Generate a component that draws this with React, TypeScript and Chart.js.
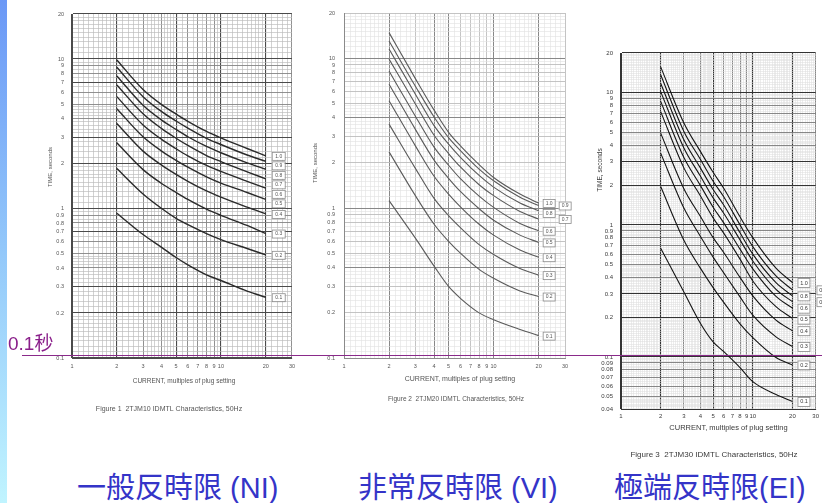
import React, { useEffect, useRef } from 'react';
import { Chart, registerables } from 'chart.js';

Chart.register(...registerables);

const FONT = '"Liberation Sans", Arial, Helvetica, sans-serif';

// ---------------- data ----------------
const CURRENT_MULTIPLES = [2, 3, 4, 5, 6, 8, 10, 15, 20];
const TMS_SETTINGS = ['1.0', '0.9', '0.8', '0.7', '0.6', '0.5', '0.4', '0.3', '0.2', '0.1'];

// Figure 1 – 2TJM10 (normal inverse), seconds at CURRENT_MULTIPLES, one row per TMS setting
const NI_TIMES = [
  [9.85, 6.25, 4.95, 4.28, 3.83, 3.28, 2.97, 2.52, 2.25],
  [8.8, 5.6, 4.45, 3.85, 3.45, 2.95, 2.68, 2.28, 2.07],
  [7.7, 4.9, 3.9, 3.38, 3.02, 2.6, 2.36, 2.02, 1.83],
  [6.7, 4.3, 3.42, 2.95, 2.64, 2.26, 2.06, 1.76, 1.58],
  [5.6, 3.62, 2.9, 2.51, 2.25, 1.94, 1.77, 1.52, 1.37],
  [4.65, 3.02, 2.42, 2.1, 1.89, 1.63, 1.48, 1.28, 1.15],
  [3.7, 2.42, 1.95, 1.69, 1.52, 1.31, 1.19, 1.02, 0.92],
  [2.75, 1.82, 1.47, 1.28, 1.15, 0.99, 0.9, 0.77, 0.68],
  [1.85, 1.25, 1.0, 0.86, 0.78, 0.68, 0.62, 0.54, 0.49],
  [0.93, 0.67, 0.55, 0.47, 0.42, 0.36, 0.33, 0.28, 0.255],
];

// Figure 2 – 2TJM20 (very inverse)
const VI_TIMES = [
  [14.8, 7.3, 4.5, 3.2, 2.6, 1.95, 1.6, 1.24, 1.08],
  [13.0, 6.5, 4.05, 2.95, 2.42, 1.82, 1.52, 1.18, 1.04],
  [11.5, 5.75, 3.55, 2.67, 2.18, 1.65, 1.38, 1.08, 0.96],
  [9.85, 4.95, 3.06, 2.31, 1.88, 1.43, 1.21, 0.95, 0.845],
  [8.2, 4.1, 2.55, 1.93, 1.57, 1.2, 1.01, 0.79, 0.706],
  [6.7, 3.35, 2.09, 1.58, 1.29, 0.99, 0.83, 0.66, 0.59],
  [5.2, 2.6, 1.63, 1.24, 1.02, 0.78, 0.66, 0.525, 0.47],
  [3.63, 1.84, 1.16, 0.89, 0.74, 0.57, 0.49, 0.395, 0.357],
  [2.37, 1.21, 0.78, 0.6, 0.5, 0.39, 0.34, 0.28, 0.257],
  [1.12, 0.63, 0.41, 0.3, 0.25, 0.2, 0.18, 0.155, 0.141],
];

// Figure 3 – 2TJM30 (extremely inverse)
const EI_TIMES = [
  [15.7, 5.9, 3.6, 2.5, 1.9, 1.15, 0.8, 0.47, 0.366],
  [13.7, 5.1, 3.14, 2.14, 1.64, 1.0, 0.684, 0.41, 0.322],
  [11.8, 4.4, 2.7, 1.85, 1.42, 0.87, 0.6, 0.365, 0.29],
  [10.2, 3.82, 2.34, 1.6, 1.23, 0.77, 0.533, 0.325, 0.262],
  [8.6, 3.23, 1.99, 1.36, 1.04, 0.655, 0.464, 0.287, 0.234],
  [7.2, 2.7, 1.66, 1.13, 0.87, 0.55, 0.376, 0.24, 0.196],
  [4.95, 1.88, 1.16, 0.8, 0.62, 0.4, 0.29, 0.19, 0.158],
  [3.49, 1.34, 0.82, 0.57, 0.435, 0.285, 0.207, 0.142, 0.12],
  [1.95, 0.765, 0.47, 0.335, 0.26, 0.178, 0.14, 0.099, 0.087],
  [0.666, 0.31, 0.18, 0.13, 0.11, 0.083, 0.065, 0.052, 0.046],
];

const X_TICK_LABELS = [1, 2, 3, 4, 5, 6, 7, 8, 9, 10, 20, 30];
const Y_TICK_LABELS_12 = [0.1, 0.2, 0.3, 0.4, 0.5, 0.6, 0.7, 0.8, 0.9, 1, 2, 3, 4, 5, 6, 7, 8, 9, 10, 20];
const Y_TICK_LABELS_3 = [0.04, 0.05, 0.06, 0.07, 0.08, 0.09, 0.1, 0.2, 0.3, 0.4, 0.5, 0.6, 0.7, 0.8, 0.9, 1, 2, 3, 4, 5, 6, 7, 8, 9, 10, 20];

const X_TITLE = 'CURRENT, multiples of plug setting';
const Y_TITLE = 'TIME, seconds';
const CAPTIONS = [
  'Figure 1  2TJM10 IDMTL Characteristics, 50Hz',
  'Figure 2  2TJM20 IDMTL Characteristics, 50Hz',
  'Figure 3  2TJM30 IDMTL Characteristics, 50Hz',
];
const CURVE_NAMES = ['一般反時限 (NI)', '非常反時限 (VI)', '極端反時限(EI)'];
const MARK_TEXT = '0.1秒';

// ---------------- helpers ----------------
function graphPaperValues(min: number, max: number, fine: boolean): number[] {
  const out: number[] = [];
  const segs = fine
    ? [[10, 20, 0.5], [20, 50, 1], [50, 100, 2.5]]
    : [[10, 20, 1], [20, 50, 2], [50, 100, 5]];
  for (let e = -3; e <= 2; e++) {
    for (const [a, b, s] of segs) {
      for (let k = a; k < b - 1e-9; k += s) {
        const v = Number(((k / 10) * Math.pow(10, e)).toPrecision(6));
        if (v >= min * (1 - 1e-9) && v <= max * (1 + 1e-9)) out.push(v);
      }
    }
  }
  return Array.from(new Set(out)).sort((p, q) => p - q);
}

function mantissa(v: number): number {
  const e = Math.floor(Math.log10(v) + 1e-9);
  return Math.round((v / Math.pow(10, e)) * 1000) / 1000;
}

type GridStyle = {
  minor: [string, number];
  major: [string, number];
  heavy: [string, number];
  heavyX: number[];
  heavyY: number[];
  fine: boolean;
};

type Spec = {
  canvas: { left: number; top: number; width: number; height: number };
  padding: { left: number; top: number; right: number; bottom: number };
  yAxisWidth: number;
  xAxisHeight: number;
  yMin: number;
  yMax: number;
  yLabels: number[];
  times: number[][];
  caption: string;
  grid: GridStyle;
  frame: string;
  line: string;
  lineWidth: number;
  text: string;
  tickSize: number;
  xTickPad: number;
  yTickPad: number;
  xTitle: { x: number; y: number; size: number };
  capPos: { x: number; y: number; size: number };
  yTitle: { x: number; y: number; size: number };
  labels: { dx: number; w: number; h: number; colDx: number; gap: number; threshold: number; size: number };
  filter?: string;
};

function gridLevel(v: number, heavy: number[]): number {
  const m = mantissa(v);
  if (heavy.includes(m)) return 2;
  if (Math.abs(m - Math.round(m)) < 1e-6) return 1;
  return 0;
}

const annotatePlugin = {
  id: 'annotate',
  afterDraw(chart: any, _args: any, opts: any) {
    const spec: Spec = opts.spec;
    if (!spec) return;
    const ctx = chart.ctx as CanvasRenderingContext2D;
    ctx.save();
    ctx.fillStyle = spec.text;
    ctx.textAlign = 'center';
    ctx.textBaseline = 'middle';
    ctx.font = `${spec.xTitle.size}px ${FONT}`;
    ctx.fillText(X_TITLE, spec.xTitle.x, spec.xTitle.y);
    ctx.font = `${spec.capPos.size}px ${FONT}`;
    ctx.fillText(spec.caption, spec.capPos.x, spec.capPos.y);
    ctx.save();
    ctx.translate(spec.yTitle.x, spec.yTitle.y);
    ctx.rotate(-Math.PI / 2);
    ctx.font = `${spec.yTitle.size}px ${FONT}`;
    ctx.fillText(Y_TITLE, 0, 0);
    ctx.restore();

    // curve setting labels
    const lab = spec.labels;
    let prevLeft = -Infinity;
    chart.data.datasets.forEach((ds: any, i: number) => {
      const meta = chart.getDatasetMeta(i);
      const pt = meta.data[meta.data.length - 1];
      if (!pt) return;
      let py = pt.y;
      let col = 0;
      const need = prevLeft + lab.gap;
      if (py < need) {
        if (need - py > lab.threshold) col = 1;
        else py = need;
      }
      if (col === 0) prevLeft = py;
      const bx = pt.x + lab.dx + col * lab.colDx;
      ctx.fillStyle = '#ffffff';
      ctx.fillRect(bx, py - lab.h / 2, lab.w, lab.h);
      ctx.strokeStyle = '#8a8a8a';
      ctx.lineWidth = 0.8;
      ctx.strokeRect(bx + 0.5, py - lab.h / 2 + 0.5, lab.w, lab.h);
      ctx.fillStyle = spec.text;
      ctx.font = `${lab.size}px ${FONT}`;
      ctx.fillText(ds.label, bx + lab.w / 2 + 0.5, py + 0.5);
    });
    ctx.restore();
  },
};

function buildConfig(spec: Spec): any {
  const g = spec.grid;
  const xGrid = graphPaperValues(1, 30, g.fine);
  const yGrid = graphPaperValues(spec.yMin, spec.yMax, g.fine);
  const xLabelSet = new Set(X_TICK_LABELS);
  const yLabelSet = new Set(spec.yLabels);
  const styleFor = (v: number | undefined, heavy: number[]) => {
    if (v === undefined) return g.minor;
    const lv = gridLevel(v, heavy);
    return lv === 2 ? g.heavy : lv === 1 ? g.major : g.minor;
  };
  const tickFont = { size: spec.tickSize, family: FONT };
  return {
    type: 'line',
    data: {
      datasets: spec.times.map((row, i) => ({
        label: TMS_SETTINGS[i],
        data: CURRENT_MULTIPLES.map((m, j) => ({ x: m, y: row[j] })),
        borderColor: spec.line,
        borderWidth: spec.lineWidth,
        pointRadius: 0,
        fill: false,
        cubicInterpolationMode: 'monotone',
      })),
    },
    options: {
      responsive: false,
      animation: false,
      events: [],
      layout: { padding: spec.padding },
      plugins: {
        legend: { display: false },
        tooltip: { enabled: false },
        annotate: { spec },
      },
      scales: {
        x: {
          type: 'logarithmic',
          min: 1,
          max: 30,
          afterBuildTicks: (s: any) => {
            s.ticks = xGrid.map((v) => ({ value: v }));
          },
          afterFit: (s: any) => {
            s.height = spec.xAxisHeight;
          },
          grid: {
            drawTicks: false,
            color: (c: any) => styleFor(c.tick?.value, g.heavyX)[0],
            lineWidth: (c: any) => styleFor(c.tick?.value, g.heavyX)[1],
          },
          border: { display: true, color: spec.frame, width: 1 },
          ticks: {
            autoSkip: false,
            maxRotation: 0,
            minRotation: 0,
            padding: spec.xTickPad,
            color: spec.text,
            font: tickFont,
            callback: (v: any) => (xLabelSet.has(Number(v)) ? String(Number(v)) : ''),
          },
        },
        y: {
          type: 'logarithmic',
          min: spec.yMin,
          max: spec.yMax,
          afterBuildTicks: (s: any) => {
            s.ticks = yGrid.map((v) => ({ value: v }));
          },
          afterFit: (s: any) => {
            s.width = spec.yAxisWidth;
          },
          grid: {
            drawTicks: false,
            color: (c: any) => styleFor(c.tick?.value, g.heavyY)[0],
            lineWidth: (c: any) => styleFor(c.tick?.value, g.heavyY)[1],
          },
          border: { display: true, color: spec.frame, width: 1 },
          ticks: {
            autoSkip: false,
            padding: spec.yTickPad,
            color: spec.text,
            font: tickFont,
            callback: (v: any) => (yLabelSet.has(Number(v)) ? String(Number(v)) : ''),
          },
        },
      },
    },
    plugins: [annotatePlugin],
  };
}

// ---------------- layouts / styles ----------------
const SPECS: Spec[] = [
  {
    canvas: { left: 20, top: 0, width: 280, height: 420 },
    padding: { left: 0, top: 14, right: 7, bottom: 48 },
    yAxisWidth: 52,
    xAxisHeight: 14,
    yMin: 0.1,
    yMax: 20,
    yLabels: Y_TICK_LABELS_12,
    times: NI_TIMES,
    caption: CAPTIONS[0],
    grid: {
      minor: ['#b9b9b9', 0.65],
      major: ['#858585', 0.9],
      heavy: ['#4a4a4a', 1.1],
      heavyX: [1, 2, 5],
      heavyY: [1, 2, 3, 7],
      fine: false,
    },
    frame: '#4a4a4a',
    line: '#2a2a2a',
    lineWidth: 1.4,
    text: '#555555',
    tickSize: 5.5,
    xTickPad: 5,
    yTickPad: 8,
    xTitle: { x: 164, y: 381, size: 6.5 },
    capPos: { x: 149, y: 409, size: 7 },
    yTitle: { x: 30, y: 167, size: 6 },
    labels: { dx: 6, w: 13, h: 8, colDx: 16, gap: 9.5, threshold: 100, size: 5 },
    filter: 'blur(0.25px)',
  },
  {
    canvas: { left: 290, top: 0, width: 285, height: 410 },
    padding: { left: 0, top: 13, right: 10, bottom: 38 },
    yAxisWidth: 54,
    xAxisHeight: 14,
    yMin: 0.1,
    yMax: 20,
    yLabels: Y_TICK_LABELS_12,
    times: VI_TIMES,
    caption: CAPTIONS[1],
    grid: {
      minor: ['#e0e0e0', 0.6],
      major: ['#bdbdbd', 0.9],
      heavy: ['#888888', 1],
      heavyX: [1, 2, 4, 5],
      heavyY: [1, 4],
      fine: false,
    },
    frame: '#8a8a8a',
    line: '#5a5a5a',
    lineWidth: 1.1,
    text: '#555555',
    tickSize: 5.5,
    xTickPad: 5,
    yTickPad: 9,
    xTitle: { x: 170, y: 379, size: 7 },
    capPos: { x: 166, y: 399, size: 6.5 },
    yTitle: { x: 25, y: 163, size: 6 },
    labels: { dx: 4, w: 12, h: 8, colDx: 16, gap: 10, threshold: 3.5, size: 5 },
    filter: 'blur(0.25px)',
  },
  {
    canvas: { left: 585, top: 40, width: 237, height: 425 },
    padding: { left: 0, top: 13, right: 6, bottom: 41.5 },
    yAxisWidth: 36,
    xAxisHeight: 14,
    yMin: 0.04,
    yMax: 20,
    yLabels: Y_TICK_LABELS_3,
    times: EI_TIMES,
    caption: CAPTIONS[2],
    grid: {
      minor: ['#dedede', 0.55],
      major: ['#7a7a7a', 0.9],
      heavy: ['#333333', 1.1],
      heavyX: [1, 2, 5],
      heavyY: [1, 2, 3],
      fine: true,
    },
    frame: '#333333',
    line: '#151515',
    lineWidth: 1.1,
    text: '#3a3a3a',
    tickSize: 6,
    xTickPad: 3,
    yTickPad: 8,
    xTitle: { x: 143.5, y: 388, size: 7.5 },
    capPos: { x: 129, y: 415, size: 8 },
    yTitle: { x: 15, y: 130, size: 6.5 },
    labels: { dx: 5, w: 12, h: 9, colDx: 19, gap: 11, threshold: 3.5, size: 5.5 },
  },
];

const TITLE_LEFTS = [77, 358, 614];

function ChartCanvas({ spec }: { spec: Spec }) {
  const ref = useRef<HTMLCanvasElement | null>(null);
  useEffect(() => {
    if (!ref.current) return;
    const chart = new Chart(ref.current, buildConfig(spec));
    return () => chart.destroy();
  }, [spec]);
  return (
    <canvas
      ref={ref}
      width={spec.canvas.width}
      height={spec.canvas.height}
      style={{
        position: 'absolute',
        left: spec.canvas.left,
        top: spec.canvas.top,
        width: spec.canvas.width,
        height: spec.canvas.height,
        filter: spec.filter,
      }}
    />
  );
}

export default function App() {
  return (
    <div
      style={{
        position: 'fixed',
        left: 0,
        top: 0,
        width: 822,
        height: 503,
        background: '#ffffff',
        overflow: 'hidden',
        fontFamily: FONT,
      }}
    >
      <div
        style={{
          position: 'absolute',
          left: 0,
          top: 0,
          width: 7,
          height: 503,
          background: 'linear-gradient(180deg, #6b98f6 0%, #93c8fa 50%, #c0f4ff 100%)',
        }}
      />
      {SPECS.map((s, i) => (
        <ChartCanvas key={i} spec={s} />
      ))}
      <div
        style={{
          position: 'absolute',
          left: 22,
          top: 354.5,
          width: 800,
          height: 1.5,
          background: '#8a2a8a',
        }}
      />
      <div
        style={{
          position: 'absolute',
          left: 8,
          top: 334,
          fontSize: 19,
          lineHeight: '19px',
          color: '#8a1f8a',
          fontFamily: '"Liberation Sans", "Noto Sans CJK TC", sans-serif',
          whiteSpace: 'nowrap',
        }}
      >
        {MARK_TEXT}
      </div>
      {CURVE_NAMES.map((t, i) => (
        <div
          key={t}
          style={{
            position: 'absolute',
            left: TITLE_LEFTS[i],
            top: 474,
            fontSize: 29,
            lineHeight: '29px',
            color: '#3434c8',
            fontFamily: '"Liberation Sans", "Noto Sans CJK TC", sans-serif',
            whiteSpace: 'nowrap',
          }}
        >
          {t}
        </div>
      ))}
    </div>
  );
}
